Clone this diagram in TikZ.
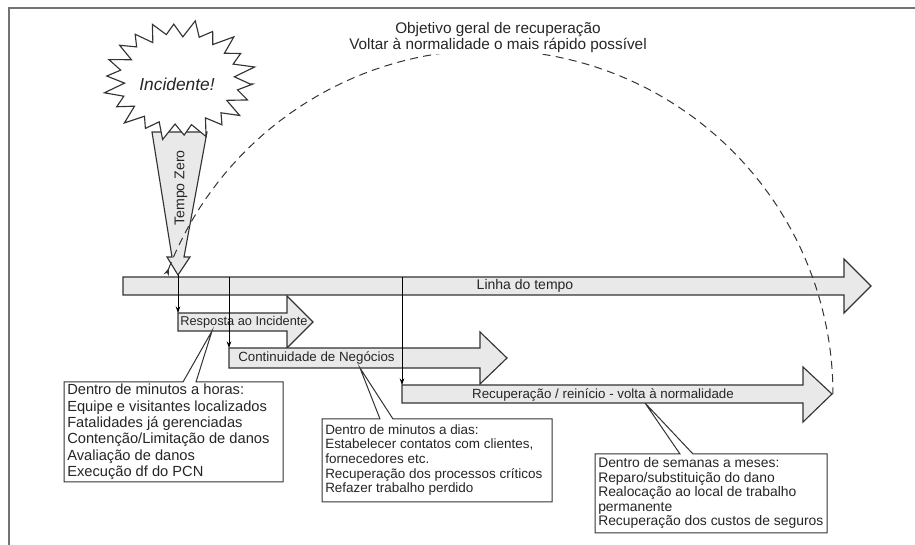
\documentclass[tikz,border=0pt]{standalone}
\usepackage{fontspec}
\setmainfont{Liberation Sans}
\usetikzlibrary{arrows.meta}
\definecolor{ink}{HTML}{333333}
\definecolor{afill}{HTML}{E9E9E9}
\begin{document}
\begin{tikzpicture}[x=0.75pt,y=-0.75pt,
  bigarrow/.style={draw=ink, fill=afill, line width=0.85pt, line join=miter},
  conn/.style={draw=black, line width=0.6pt, -{Stealth[length=5pt,width=3.5pt]}},
  callout/.style={draw=ink, fill=white, line width=0.75pt},
  lbl/.style={inner sep=0pt, text=black!85},
  frame/.style={draw=black!55, line width=1.6pt}]
\useasboundingbox (0,0) rectangle (915,545);

% frame
\draw[frame] (8,8) -- (915,8);
\draw[frame] (9,8) -- (9,545);

% Tempo Zero arrow
\draw[bigarrow] (152,132) -- (172,257) -- (167,257) -- (178,275) coordinate (tz)
  -- (190,257) -- (184,257) -- (207,132) -- cycle;

% starburst
\draw[draw=ink, fill=white, line width=0.85pt, line join=miter]
  plot[samples=45, domain=0:44, variable=\t]
  ({179 + 74*((mod(\t,2)<0.5) ? 1 : 0.77)*(1+0.05*sin(\t*97))*cos(\t*360/44+4)},
   {80 + 58*((mod(\t,2)<0.5) ? 1 : 0.77)*(1+0.05*sin(\t*97))*sin(\t*360/44+4)}) -- cycle;
\node[lbl, font=\itshape\fontsize{13}{15}\selectfont] (inc) at (177,84) {Incidente!};
\node[lbl, rotate=90, font=\fontsize{10.6}{12}\selectfont] (tzlbl) at (181,188) {Tempo Zero};

% timeline
\draw[bigarrow] (123,277) coordinate (tl-nw) -- (844,277) -- (844,259) -- (871,286) coordinate (tl-tip)
  -- (844,313) -- (844,295) -- (123,295) -- cycle;
\node[lbl, font=\fontsize{10.5}{12}\selectfont] (tl) at (525,286) {Linha do tempo};
\coordinate (t1) at (229,277);
\coordinate (t2) at (402,277);

% Resposta
\draw[bigarrow] (178,313) coordinate (ra-nw) -- (287,313) -- (287,296) -- (313,322)
  -- (287,348) -- (287,331) -- (178,331) -- cycle;
\node[lbl, anchor=west, font=\fontsize{9.6}{11}\selectfont] (ra) at (180,322) {Resposta ao Incidente};
\coordinate (ra-b) at (212,331);

% Continuidade
\draw[bigarrow] (229,348) coordinate (cn-nw) -- (480,348) -- (480,332) -- (507,358)
  -- (480,384) -- (480,368) -- (229,368) -- cycle;
\node[lbl, anchor=west, font=\fontsize{10}{12}\selectfont] (cn) at (238,358) {Continuidade de Negócios};
\coordinate (cn-b) at (360,368);

% Recuperacao
\draw[bigarrow] (402,385) coordinate (rc-nw) -- (803,385) -- (803,367) -- (832,394) coordinate (rc-tip)
  -- (803,422) -- (803,403) -- (402,403) -- cycle;
\node[lbl, font=\fontsize{10}{12}\selectfont] (rc) at (603,395) {Recuperação / reinício - volta à normalidade};
\coordinate (rc-b) at (645,403);

% dashed objective arc
\draw[draw=ink, dashed, dash pattern=on 6pt off 4pt, line width=0.75pt, {Stealth[reversed,length=6pt,width=4pt]}-]
  plot[samples=90, domain=159.8:0] ({489+344*cos(\x)}, {394-344*sin(\x)});

\node[fill=white, inner sep=1pt, align=center, text=black!85, font=\fontsize{11.5}{12}\selectfont] (goal) at (498,38)
  {Objetivo geral de recuperação\\Voltar à normalidade o mais rápido possível};

% downward connectors
\draw[conn] (tz) -- (ra-nw);
\draw[conn] (t1) -- (cn-nw);
\draw[conn] (t2) -- (rc-nw);

% callout 1
\draw[callout] (64,382) -- (183,382) -- (ra-b) -- (196,382) -- (283,382) -- (283,482) -- (64,482) -- cycle;
\node[lbl, anchor=west, align=left, font=\fontsize{11}{12.3}\selectfont] (c1) at (67,432)
  {Dentro de minutos a horas:\\Equipe e visitantes localizados\\Fatalidades já gerenciadas\\Contenção/Limitação de danos\\Avaliação de danos\\Execução df do PCN};

% callout 2
\draw[callout] (322,419) -- (380,419) -- (cn-b) -- (393,419) -- (552,419) -- (552,502) -- (322,502) -- cycle;
\node[lbl, anchor=west, align=left, font=\fontsize{10.1}{10.9}\selectfont] (c2) at (325,460)
  {Dentro de minutos a dias:\\Estabelecer contatos com clientes,\\fornecedores etc.\\Recuperação dos processos críticos\\Refazer trabalho perdido};

% callout 3
\draw[callout] (595,454) -- (680,454) -- (rc-b) -- (693,454) -- (827,454) -- (827,533) -- (595,533) -- cycle;
\node[lbl, anchor=west, align=left, font=\fontsize{10.4}{10.9}\selectfont] (c3) at (598,493)
  {Dentro de semanas a meses:\\Reparo/substituição do dano\\Realocação ao local de trabalho\\permanente\\Recuperação dos custos de seguros};
\end{tikzpicture}
\end{document}
